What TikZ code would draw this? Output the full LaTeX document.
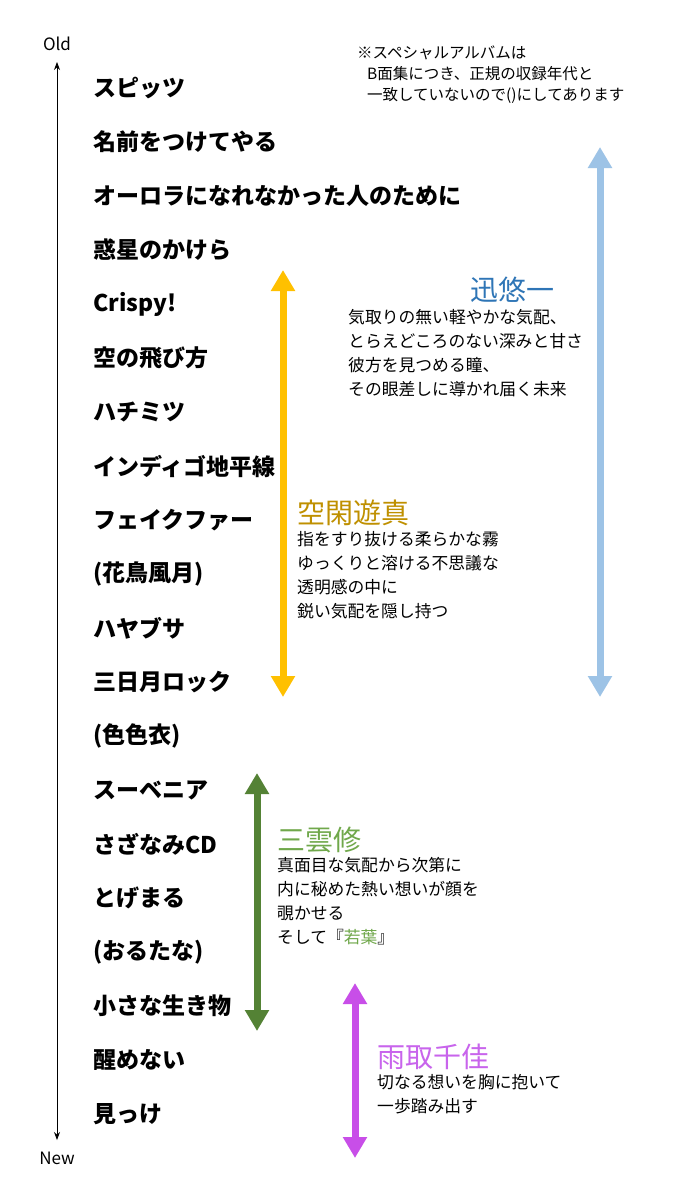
\documentclass[tikz,border=0pt]{standalone}
\usepackage{fontspec}
\setmainfont{Noto Sans CJK JP}
\usetikzlibrary{positioning,arrows.meta}
\definecolor{jinColor}{RGB}{157,195,230}
\definecolor{jinText}{RGB}{46,117,182}
\definecolor{yumaColor}{RGB}{255,192,0}
\definecolor{yumaText}{RGB}{191,144,0}
\definecolor{osamuColor}{RGB}{84,130,53}
\definecolor{osamuText}{RGB}{112,168,75}
\definecolor{chikaColor}{RGB}{200,78,232}
\definecolor{chikaText}{RGB}{200,100,236}

\begin{document}
\begin{tikzpicture}[x=1pt,y=-1pt]
    \tikzstyle{album} = [anchor=west,inner sep=0pt,font=\fontsize{23}{23}\selectfont\bfseries,node distance=54pt]
    \tikzstyle{era} = [inner sep=0pt,font=\fontsize{17}{17}\selectfont]
    \tikzstyle{hero} = [anchor=west,inner sep=0pt,font=\fontsize{28}{28}\selectfont]
    \tikzstyle{desc} = [anchor=north west,inner sep=0pt,align=left,font=\fontsize{16.8}{24}\selectfont]
    \tikzstyle{remark} = [anchor=north west,inner sep=0pt,align=left,font=\fontsize{15.5}{21}\selectfont]
    \tikzstyle{span} = [line width=7pt,{Triangle[width=23pt,length=21pt]}-{Triangle[width=23pt,length=21pt]}]
    \tikzset{>={Stealth[length=8pt,width=6pt]}}

    \fill [white] (0,0) rectangle (675,1200);
    \useasboundingbox (0,0) rectangle (675,1200);

    % time axis
    \node [era] (old) at (57,44) {Old};
    \node [era] (new) at (57,1158) {New};
    \coordinate (axisTop) at (57,62);
    \coordinate (axisBot) at (57,1140);
    \draw [<->,line width=0.9pt] (axisTop) -- (axisBot);

    % albums
    \node [album] (spitz) at (93,88) {スピッツ};
    \node [album, below=of spitz.west, anchor=west] (namae) {名前をつけてやる};
    \node [album, below=of namae.west, anchor=west] (aurora) {オーロラになれなかった人のために};
    \node [album, below=of aurora.west, anchor=west] (wakusei) {惑星のかけら};
    \node [album, below=of wakusei.west, anchor=west] (crispy) {Crispy!};
    \node [album, below=of crispy.west, anchor=west] (sora) {空の飛び方};
    \node [album, below=of sora.west, anchor=west] (hachimitsu) {ハチミツ};
    \node [album, below=of hachimitsu.west, anchor=west] (indigo) {インディゴ地平線};
    \node [album, below=of indigo.west, anchor=west] (fake) {フェイクファー};
    \node [album, below=of fake.west, anchor=west] (kachou) {(花鳥風月)};
    \node [album, below=of kachou.west, anchor=west] (hayabusa) {ハヤブサ};
    \node [album, below=of hayabusa.west, anchor=west] (mikazuki) {三日月ロック};
    \node [album, below=of mikazuki.west, anchor=west] (iroiro) {(色色衣)};
    \node [album, below=of iroiro.west, anchor=west] (souvenir) {スーベニア};
    \node [album, below=of souvenir.west, anchor=west] (sazanami) {さざなみCD};
    \node [album, below=of sazanami.west, anchor=west] (togemaru) {とげまる};
    \node [album, below=of togemaru.west, anchor=west] (orutana) {(おるたな)};
    \node [album, below=of orutana.west, anchor=west] (chiisana) {小さな生き物};
    \node [album, below=of chiisana.west, anchor=west] (samenai) {醒めない};
    \node [album, below=of samenai.west, anchor=west] (mikke) {見っけ};

    % note
    \node [remark] (special) at (357,46) {※スペシャルアルバムは\\\hspace{10pt}B面集につき、正規の収録年代と\\\hspace{10pt}一致していないので()にしてあります};

    % Jin
    \coordinate (jinTop) at (600,147);
    \coordinate (jinBot) at (600,697);
    \draw [span, jinColor] (jinTop) -- (jinBot);
    \node [hero, jinText] (jin) at (470,290) {迅悠一};
    \node [desc] (jinDesc) at (348,309) {気取りの無い軽やかな気配、\\とらえどころのない深みと甘さ\\彼方を見つめる瞳、\\その眼差しに導かれ届く未来};

    % Yuma
    \coordinate (yumaTop) at (283,270);
    \coordinate (yumaBot) at (283,697);
    \draw [span, yumaColor] (yumaTop) -- (yumaBot);
    \node [hero, yumaText] (yuma) at (297,513) {空閑遊真};
    \node [desc] (yumaDesc) at (297,531) {指をすり抜ける柔らかな霧\\ゆっくりと溶ける不思議な\\透明感の中に\\鋭い気配を隠し持つ};

    % Osamu
    \coordinate (osamuTop) at (257,773);
    \coordinate (osamuBot) at (257,1031);
    \draw [span, osamuColor] (osamuTop) -- (osamuBot);
    \node [hero, osamuText] (osamu) at (277,840) {三雲修};
    \node [desc] (osamuDesc) at (277,857) {真面目な気配から次第に\\内に秘めた熱い想いが顔を\\覗かせる\\そして『\textcolor{osamuText}{若葉}』};

    % Chika
    \coordinate (chikaTop) at (355,983);
    \coordinate (chikaBot) at (355,1158);
    \draw [span, chikaColor] (chikaTop) -- (chikaBot);
    \node [hero, chikaText] (chika) at (377,1057) {雨取千佳};
    \node [desc] (chikaDesc) at (377,1074) {切なる想いを胸に抱いて\\一歩踏み出す};
\end{tikzpicture}
\end{document}
